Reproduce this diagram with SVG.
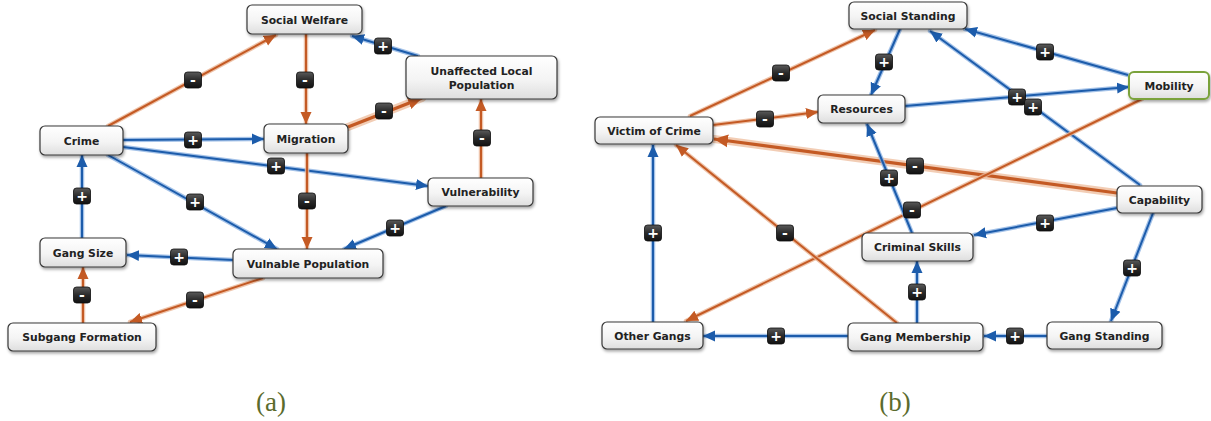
<svg xmlns="http://www.w3.org/2000/svg" width="1211" height="421" viewBox="0 0 1211 421">
<defs>
<linearGradient id="ng" x1="0" y1="0" x2="0" y2="1"><stop offset="0" stop-color="#ffffff"/><stop offset="0.55" stop-color="#f4f4f4"/><stop offset="1" stop-color="#dedede"/></linearGradient>
<linearGradient id="bg" x1="0" y1="0" x2="0" y2="1"><stop offset="0" stop-color="#5a5a5a"/><stop offset="0.5" stop-color="#2a2a2a"/><stop offset="1" stop-color="#111111"/></linearGradient>
<filter id="sh" x="-10%" y="-20%" width="125%" height="160%"><feDropShadow dx="1" dy="2" stdDeviation="1.4" flood-color="#000" flood-opacity="0.35"/></filter>
<marker id="ab" viewBox="0 0 12 12" refX="12" refY="6" markerWidth="12" markerHeight="12" markerUnits="userSpaceOnUse" orient="auto"><path d="M0,0.5 L12,6 L0,11.5 z" fill="#1c5cab"/></marker>
<marker id="ao" viewBox="0 0 12 12" refX="12" refY="6" markerWidth="12" markerHeight="12" markerUnits="userSpaceOnUse" orient="auto"><path d="M0,0.5 L12,6 L0,11.5 z" fill="#c45a24"/></marker>
<marker id="aot" viewBox="0 0 12 12" refX="12" refY="6" markerWidth="14" markerHeight="14" markerUnits="userSpaceOnUse" orient="auto"><path d="M0,0.5 L12,6 L0,11.5 z" fill="#c45a24"/></marker>
</defs>
<style>
.n rect{fill:url(#ng);stroke:#383838;stroke-width:1.2;filter:url(#sh)}
.n text{font-family:"DejaVu Sans",Verdana,sans-serif;font-weight:bold;font-size:10.8px;fill:#222;text-anchor:middle}
.hb{stroke:#8db3e2;stroke-width:4.5;fill:none;stroke-linecap:round;opacity:0.8}
.b{stroke:#1c5cab;stroke-width:2;fill:none;marker-end:url(#ab)}
.ho{stroke:#eab596;stroke-width:4.5;fill:none;stroke-linecap:round;opacity:0.8}
.o{stroke:#c45a24;stroke-width:2;fill:none;marker-end:url(#ao)}
.hot{stroke:#efc0a2;stroke-width:8;fill:none;stroke-linecap:round;opacity:0.8}
.ot{stroke:#c45a24;stroke-width:3.2;fill:none;marker-end:url(#aot)}
.bd rect{fill:url(#bg);stroke:#0c0c0c;stroke-width:0.8}
.bd text{font-family:"DejaVu Sans",Verdana,sans-serif;font-weight:bold;font-size:14px;fill:#fff;text-anchor:middle}
.cap{font-family:"Liberation Serif","Times New Roman",serif;font-size:27px;fill:#5b6b2d;text-anchor:middle}
</style>
<g id="connectors">
<!-- (a) -->
<path class="ho" d="M108,126 L276,35"/><path class="o" d="M108,126 L276,35"/>
<path class="ho" d="M306,34 L306,124"/><path class="o" d="M306,34 L306,124"/>
<path class="hb" d="M418,56 L352,36"/><path class="b" d="M418,56 L352,36"/>
<path class="hot" d="M348,127 L422,98"/><path class="ot" d="M348,127 L422,98"/>
<path class="ho" d="M481,178 L481,99"/><path class="o" d="M481,178 L481,99"/>
<path class="hb" d="M123,140 L264,139"/><path class="b" d="M123,140 L264,139"/>
<path class="hb" d="M123,147 L428,186"/><path class="b" d="M123,147 L428,186"/>
<path class="hb" d="M108,155 L277,249"/><path class="b" d="M108,155 L277,249"/>
<path class="ho" d="M307,153 L307,249"/><path class="o" d="M307,153 L307,249"/>
<path class="hb" d="M446,206 L344,249"/><path class="b" d="M446,206 L344,249"/>
<path class="hb" d="M233,260 L127,255"/><path class="b" d="M233,260 L127,255"/>
<path class="hb" d="M82,238 L82,155"/><path class="b" d="M82,238 L82,155"/>
<path class="ho" d="M83,323 L83,267"/><path class="o" d="M83,323 L83,267"/>
<path class="ho" d="M263,278 L130,322"/><path class="o" d="M263,278 L130,322"/>
<!-- (b) -->
<path class="ho" d="M690,116 L875,30"/><path class="o" d="M690,116 L875,30"/>
<path class="ho" d="M713,125 L818,112"/><path class="o" d="M713,125 L818,112"/>
<path class="hb" d="M900,29 L871,95"/><path class="b" d="M900,29 L871,95"/>
<path class="hb" d="M1128,75 L965,29"/><path class="b" d="M1128,75 L965,29"/>
<path class="hb" d="M905,106 L1129,87"/><path class="b" d="M905,106 L1129,87"/>
<path class="hb" d="M1140,185 L930,31"/><path class="b" d="M1140,185 L930,31"/>
<path class="hot" d="M1117,193 L714,139"/><path class="ot" d="M1117,193 L714,139"/>
<path class="ho" d="M1142,99 L686,321"/><path class="o" d="M1142,99 L686,321"/>
<path class="hb" d="M912,233 L867,124"/><path class="b" d="M912,233 L867,124"/>
<path class="hb" d="M1117,208 L974,235"/><path class="b" d="M1117,208 L974,235"/>
<path class="hb" d="M1153,213 L1111,321"/><path class="b" d="M1153,213 L1111,321"/>
<path class="hb" d="M1047,336 L984,336"/><path class="b" d="M1047,336 L984,336"/>
<path class="hb" d="M917,323 L917,261"/><path class="b" d="M917,323 L917,261"/>
<path class="hb" d="M848,336 L703,336"/><path class="b" d="M848,336 L703,336"/>
<path class="ho" d="M897,323 L676,145"/><path class="o" d="M897,323 L676,145"/>
<path class="hb" d="M653,322 L653,145"/><path class="b" d="M653,322 L653,145"/>
<!-- badges (a) -->
<g class="bd"><rect x="184.5" y="72" width="17" height="16" rx="3"/><text x="193" y="85">-</text></g>
<g class="bd"><rect x="296.5" y="72" width="17" height="16" rx="3"/><text x="305" y="85">-</text></g>
<g class="bd"><rect x="374.5" y="38" width="17" height="16" rx="3"/><text x="383" y="51">+</text></g>
<g class="bd"><rect x="375.5" y="103" width="17" height="16" rx="3"/><text x="384" y="116">-</text></g>
<g class="bd"><rect x="473.5" y="130" width="17" height="16" rx="3"/><text x="482" y="143">-</text></g>
<g class="bd"><rect x="184.5" y="132" width="17" height="16" rx="3"/><text x="193" y="145">+</text></g>
<g class="bd"><rect x="267.5" y="158" width="17" height="16" rx="3"/><text x="276" y="171">+</text></g>
<g class="bd"><rect x="186.5" y="194" width="17" height="16" rx="3"/><text x="195" y="207">+</text></g>
<g class="bd"><rect x="298.5" y="193" width="17" height="16" rx="3"/><text x="307" y="206">-</text></g>
<g class="bd"><rect x="386.5" y="220" width="17" height="16" rx="3"/><text x="395" y="233">+</text></g>
<g class="bd"><rect x="170.5" y="249" width="17" height="16" rx="3"/><text x="179" y="262">+</text></g>
<g class="bd"><rect x="73.5" y="188" width="17" height="16" rx="3"/><text x="82" y="201">+</text></g>
<g class="bd"><rect x="73.5" y="287" width="17" height="16" rx="3"/><text x="82" y="300">-</text></g>
<g class="bd"><rect x="186.5" y="292" width="17" height="16" rx="3"/><text x="195" y="305">-</text></g>
<!-- badges (b) -->
<g class="bd"><rect x="772.5" y="65" width="17" height="16" rx="3"/><text x="781" y="78">-</text></g>
<g class="bd"><rect x="756.5" y="111" width="17" height="16" rx="3"/><text x="765" y="124">-</text></g>
<g class="bd"><rect x="875.5" y="54" width="17" height="16" rx="3"/><text x="884" y="67">+</text></g>
<g class="bd"><rect x="1036.5" y="44" width="17" height="16" rx="3"/><text x="1045" y="57">+</text></g>
<g class="bd"><rect x="1008.5" y="89" width="17" height="16" rx="3"/><text x="1017" y="102">+</text></g>
<g class="bd"><rect x="1024.5" y="99" width="17" height="16" rx="3"/><text x="1033" y="112">+</text></g>
<g class="bd"><rect x="906.5" y="158" width="17" height="16" rx="3"/><text x="915" y="171">-</text></g>
<g class="bd"><rect x="903.5" y="202" width="17" height="16" rx="3"/><text x="912" y="215">-</text></g>
<g class="bd"><rect x="880.5" y="170" width="17" height="16" rx="3"/><text x="889" y="183">+</text></g>
<g class="bd"><rect x="1036.5" y="215" width="17" height="16" rx="3"/><text x="1045" y="228">+</text></g>
<g class="bd"><rect x="1123.5" y="260" width="17" height="16" rx="3"/><text x="1132" y="273">+</text></g>
<g class="bd"><rect x="1006.5" y="328" width="17" height="16" rx="3"/><text x="1015" y="341">+</text></g>
<g class="bd"><rect x="908.5" y="284" width="17" height="16" rx="3"/><text x="917" y="297">+</text></g>
<g class="bd"><rect x="767.5" y="328" width="17" height="16" rx="3"/><text x="776" y="341">+</text></g>
<g class="bd"><rect x="776.5" y="225" width="17" height="16" rx="3"/><text x="785" y="238">-</text></g>
<g class="bd"><rect x="644.5" y="225" width="17" height="16" rx="3"/><text x="653" y="238">+</text></g>
</g>
<!-- nodes (a) -->
<g id="social-welfare" class="n"><rect x="247" y="5" width="115" height="29" rx="5"/><text x="304.5" y="24">Social Welfare</text></g>
<g id="unaffected-local-population" class="n"><rect x="406" y="56" width="151" height="43" rx="5"/><text x="481.5" y="75">Unaffected Local</text><text x="481.5" y="89">Population</text></g>
<g id="migration" class="n"><rect x="264" y="124" width="84" height="29" rx="5"/><text x="306" y="143">Migration</text></g>
<g id="crime" class="n"><rect x="40" y="126" width="83" height="29" rx="5"/><text x="81.5" y="145">Crime</text></g>
<g id="vulnerability" class="n"><rect x="428" y="178" width="105" height="28" rx="5"/><text x="480.5" y="196">Vulnerability</text></g>
<g id="gang-size" class="n"><rect x="40" y="238" width="86" height="29" rx="5"/><text x="83" y="257">Gang Size</text></g>
<g id="vulnable-population" class="n"><rect x="233" y="249" width="150" height="29" rx="5"/><text x="308" y="268">Vulnable Population</text></g>
<g id="subgang-formation" class="n"><rect x="8" y="323" width="148" height="28" rx="5"/><text x="82" y="341">Subgang Formation</text></g>
<!-- nodes (b) -->
<g id="social-standing" class="n"><rect x="849" y="2" width="118" height="27" rx="5"/><text x="908" y="20">Social Standing</text></g>
<g id="mobility" class="n"><rect x="1129" y="72" width="80" height="27" rx="5" style="stroke:#7aa23a;stroke-width:2"/><text x="1169" y="90">Mobility</text></g>
<g id="resources" class="n"><rect x="818" y="95" width="87" height="28" rx="5"/><text x="861.5" y="113">Resources</text></g>
<g id="victim-of-crime" class="n"><rect x="595" y="117" width="118" height="27" rx="5"/><text x="654" y="135">Victim of Crime</text></g>
<g id="capability" class="n"><rect x="1117" y="186" width="85" height="27" rx="5"/><text x="1159.5" y="204">Capability</text></g>
<g id="criminal-skills" class="n"><rect x="862" y="233" width="111" height="28" rx="5"/><text x="917.5" y="251">Criminal Skills</text></g>
<g id="other-gangs" class="n"><rect x="602" y="322" width="101" height="27" rx="5"/><text x="652.5" y="340">Other Gangs</text></g>
<g id="gang-membership" class="n"><rect x="848" y="323" width="135" height="28" rx="5"/><text x="915.5" y="341">Gang Membership</text></g>
<g id="gang-standing" class="n"><rect x="1047" y="322" width="115" height="27" rx="5"/><text x="1104.5" y="340">Gang Standing</text></g>
<text class="cap" x="271" y="411">(a)</text>
<text class="cap" x="895" y="411">(b)</text>
</svg>
